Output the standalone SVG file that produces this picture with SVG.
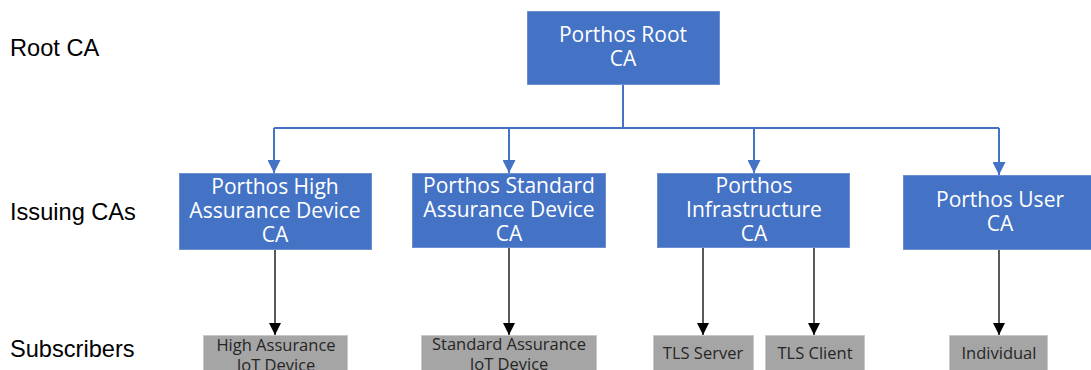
<svg xmlns="http://www.w3.org/2000/svg" width="1091" height="370" viewBox="0 0 1091 370">
<defs>
<style>
.ca{fill:#4472C4;stroke:#6D8FD0;stroke-width:1}
.sub{fill:#A5A5A5;stroke:#C9C9C9;stroke-width:1}
.ct{font-family:"Open Sans","Noto Sans",sans-serif;font-size:21px;fill:#FFFFFF;text-anchor:middle}
.st{font-family:"Open Sans","Noto Sans",sans-serif;font-size:16.5px;fill:#262626;text-anchor:middle}
.lbl{font-family:"Liberation Sans",Arial,sans-serif;font-size:23.6px;fill:#000000}
.bl{stroke:#4472C4;stroke-width:2;fill:none}
.bk{stroke:#000000;stroke-width:1.3;fill:none}
</style>
<marker id="ab" viewBox="0 0 10 10" refX="10" refY="5" markerWidth="13" markerHeight="13" markerUnits="userSpaceOnUse" orient="auto">
<path d="M0,0 L10,5 L0,10 z" fill="#4472C4"/>
</marker>
<marker id="ak" viewBox="0 0 10 10" refX="10" refY="5" markerWidth="12" markerHeight="12" markerUnits="userSpaceOnUse" orient="auto">
<path d="M0,0 L10,5 L0,10 z" fill="#000000"/>
</marker>
</defs>
<rect width="1091" height="370" fill="#FFFFFF"/>
<g id="labels">
<text class="lbl" x="10" y="56">Root CA</text>
<text class="lbl" x="10" y="220">Issuing CAs</text>
<text class="lbl" x="10" y="357">Subscribers</text>
</g>
<g id="connectors">
<path class="bl" d="M623,84 V128"/>
<path class="bl" d="M274,128 H999"/>
<path class="bl" d="M274,128 V173" marker-end="url(#ab)"/>
<path class="bl" d="M509,128 V173" marker-end="url(#ab)"/>
<path class="bl" d="M754,128 V173" marker-end="url(#ab)"/>
<path class="bl" d="M999,128 V175" marker-end="url(#ab)"/>
<path class="bk" d="M275,249 V335" marker-end="url(#ak)"/>
<path class="bk" d="M509,247 V335" marker-end="url(#ak)"/>
<path class="bk" d="M703,247 V335" marker-end="url(#ak)"/>
<path class="bk" d="M814,247 V335" marker-end="url(#ak)"/>
<path class="bk" d="M999,249 V335" marker-end="url(#ak)"/>
</g>
<g id="root">
<rect class="ca" x="527.5" y="11.5" width="192" height="73"/>
<text class="ct" x="623" y="42">Porthos Root</text>
<text class="ct" x="623" y="66">CA</text>
</g>
<g id="high">
<rect class="ca" x="179.5" y="173.5" width="192" height="76"/>
<text class="ct" x="275" y="194">Porthos High</text>
<text class="ct" x="275" y="218">Assurance Device</text>
<text class="ct" x="275" y="242">CA</text>
</g>
<g id="standard">
<rect class="ca" x="412.5" y="173.5" width="193" height="74"/>
<text class="ct" x="509" y="193">Porthos Standard</text>
<text class="ct" x="509" y="217">Assurance Device</text>
<text class="ct" x="509" y="241">CA</text>
</g>
<g id="infra">
<rect class="ca" x="657.5" y="173.5" width="192" height="74"/>
<text class="ct" x="754" y="193">Porthos</text>
<text class="ct" x="754" y="217">Infrastructure</text>
<text class="ct" x="754" y="241">CA</text>
</g>
<g id="user">
<rect class="ca" x="903.5" y="175.5" width="192" height="74"/>
<text class="ct" x="1000" y="207">Porthos User</text>
<text class="ct" x="1000" y="231">CA</text>
</g>
<g id="sub-high">
<rect class="sub" x="203.5" y="335.5" width="144" height="40"/>
<text class="st" x="276" y="351">High Assurance</text>
<text class="st" x="276" y="371">IoT Device</text>
</g>
<g id="sub-standard">
<rect class="sub" x="421.5" y="335.5" width="175" height="40"/>
<text class="st" x="509" y="350">Standard Assurance</text>
<text class="st" x="509" y="370">IoT Device</text>
</g>
<g id="sub-tlsserver">
<rect class="sub" x="653.5" y="335.5" width="100" height="40"/>
<text class="st" x="703" y="359">TLS Server</text>
</g>
<g id="sub-tlsclient">
<rect class="sub" x="765.5" y="335.5" width="99" height="40"/>
<text class="st" x="815" y="359">TLS Client</text>
</g>
<g id="sub-individual">
<rect class="sub" x="949.5" y="335.5" width="98" height="40"/>
<text class="st" x="999" y="359">Individual</text>
</g>
</svg>
